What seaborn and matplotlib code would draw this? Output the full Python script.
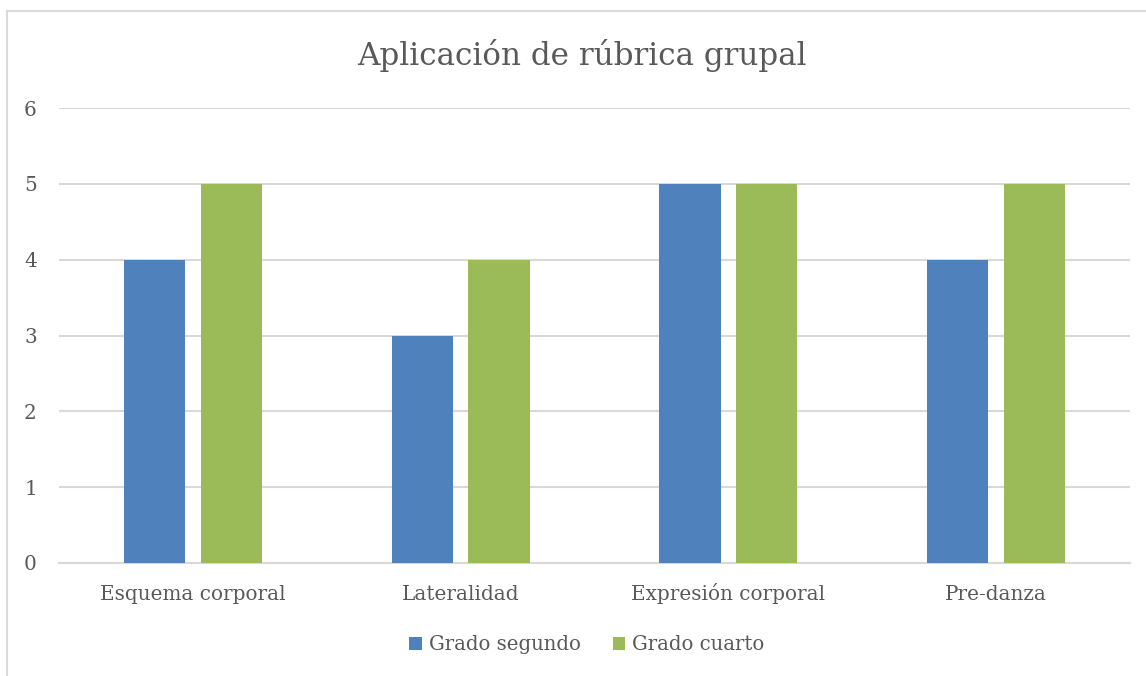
import matplotlib
matplotlib.use("Agg")
import matplotlib.pyplot as plt
import seaborn as sns
import pandas as pd
from matplotlib.patches import Rectangle

categories = ["Esquema corporal", "Lateralidad", "Expresión corporal", "Pre-danza"]
series_names = ["Grado segundo", "Grado cuarto"]
grado_segundo = [4, 3, 5, 4]
grado_cuarto = [5, 4, 5, 5]
y_ticks = [0, 1, 2, 3, 4, 5, 6]

colors = ["#4F81BD", "#9BBB59"]
text_color = "#595959"
grid_color = "#D9D9D9"

df = pd.DataFrame({
    "Categoría": categories * 2,
    "Serie": [series_names[0]] * len(categories) + [series_names[1]] * len(categories),
    "Valor": grado_segundo + grado_cuarto,
})

sns.set_theme(style="white")
plt.rcParams["font.family"] = ["DejaVu Serif"]

W, H = 1146, 676
fig = plt.figure(figsize=(W / 100, H / 100), dpi=100)
fig.patch.set_facecolor("white")

# chart frame
fig.patches.append(Rectangle((7 / W, -0.01), 1.1, 1 - 11 / H + 0.01,
                             transform=fig.transFigure, fill=False,
                             edgecolor=grid_color, linewidth=1.5))

left, right, top, bottom = 59, 1130, 108, 563
ax = fig.add_axes([left / W, 1 - bottom / H, (right - left) / W, (bottom - top) / H])

sns.barplot(data=df, x="Categoría", y="Valor", hue="Serie", palette=colors,
            width=0.572, gap=0.2, saturation=1, ax=ax, legend=False,
            linewidth=0, edgecolor="none", zorder=3)

ax.set_ylim(0, 6)
ax.set_xlim(-0.5, len(categories) - 0.5)
ax.set_yticks(y_ticks)
ax.yaxis.grid(True, color=grid_color, linewidth=1.5, zorder=0)
ax.set_axisbelow(True)
for s in ["top", "right", "left"]:
    ax.spines[s].set_visible(False)
ax.spines["bottom"].set_color(grid_color)
ax.spines["bottom"].set_linewidth(1.5)
ax.tick_params(axis="both", length=0, labelsize=14.4, colors=text_color)
ax.tick_params(axis="y", pad=16)
ax.tick_params(axis="x", pad=26.5)
for lbl in ax.get_xticklabels():
    lbl.set_verticalalignment("baseline")
ax.set_xlabel("")
ax.set_ylabel("")

fig.text(582 / W, 1 - 55 / H, "Aplicación de rúbrica grupal", ha="center", va="center",
         fontsize=22.3, color=text_color)

handles = [Rectangle((0, 0), 1, 1, facecolor=c, edgecolor="none") for c in colors]
fig.legend(handles, series_names, loc="center", bbox_to_anchor=(587 / W, 1 - 645 / H),
           ncol=2, frameon=False, fontsize=14.2, labelcolor=text_color,
           handlelength=0.65, handleheight=0.65, handletextpad=0.35, columnspacing=1.6)

fig.savefig("out.png", dpi=100, facecolor="white")
